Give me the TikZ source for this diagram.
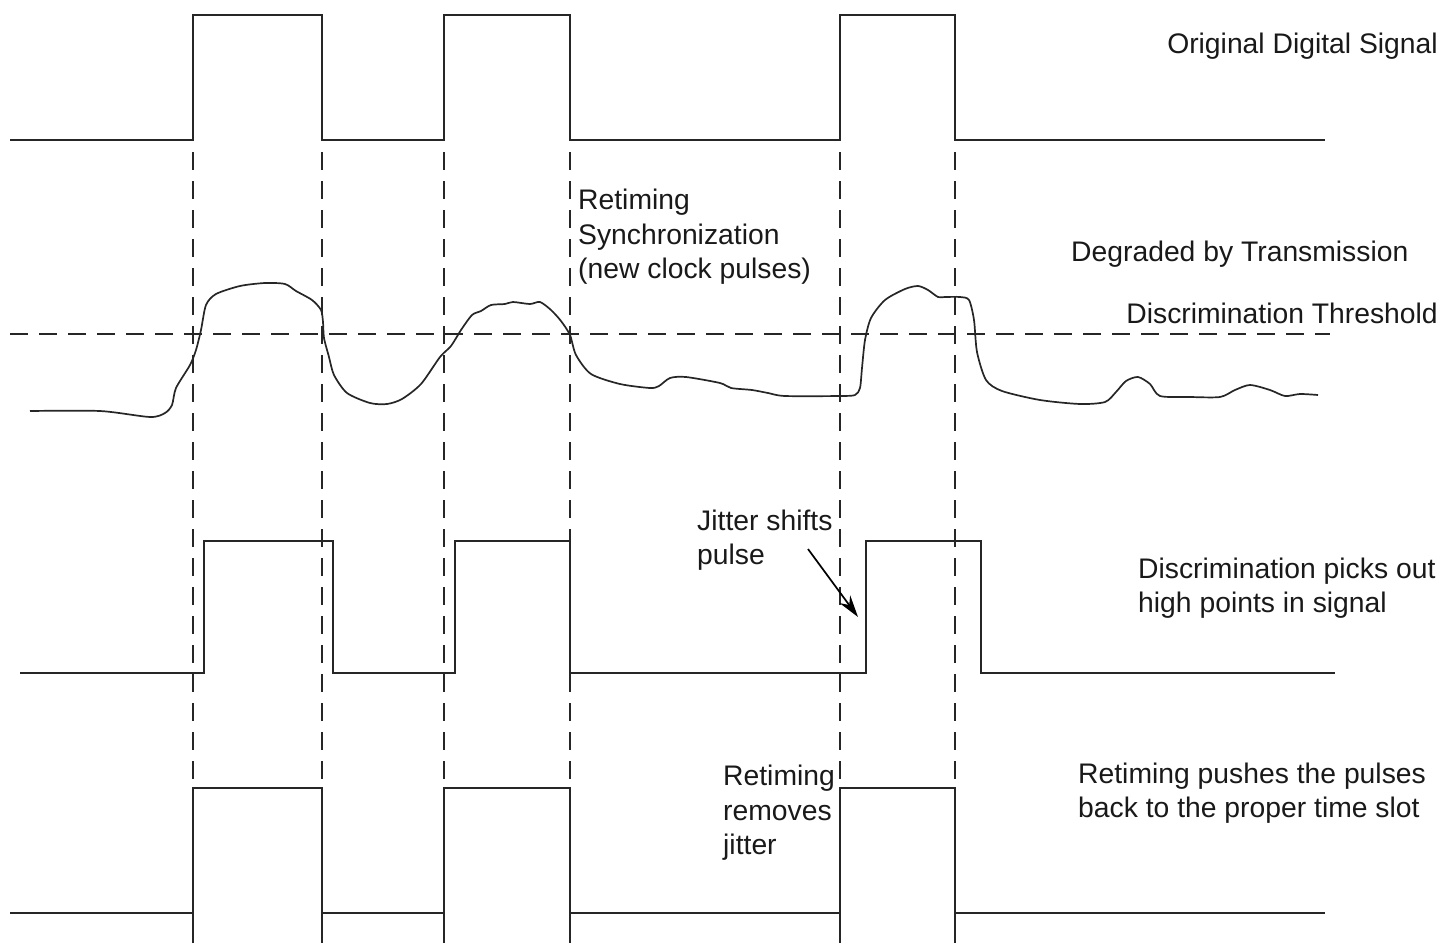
\documentclass[tikz,border=0pt]{standalone}
\usepackage{fontspec}
\setmainfont{Liberation Sans}
\usetikzlibrary{arrows.meta}
\begin{document}
\begin{tikzpicture}[x=1pt,y=-1pt,
  sig/.style={line width=2pt,draw=black!85,line join=miter},
  guide/.style={line width=1.7pt,draw=black!85,dash pattern=on 18pt off 11pt},
  lbl/.style={font=\fontsize{28.3}{34.5}\selectfont,text=black!90,inner sep=0pt,align=left,anchor=west},
  pointer/.style={line width=1.7pt,draw=black,-{Stealth[length=22pt,width=13pt]}}]
\useasboundingbox (0,0) rectangle (1446,943);
% original digital signal
\draw[sig] (10,140) -- (193,140) -- (193,15) -- (322,15) -- (322,140) -- (444,140) -- (444,15) -- (570,15) -- (570,140) -- (840,140) -- (840,15) -- (955,15) -- (955,140) -- (1325,140);
% retiming guide lines
\foreach \xx in {193,322,444,570,840,955}
  \draw[guide,dash phase=-12pt] (\xx,140) -- (\xx,788);
% threshold
\draw[guide] (10,334) -- (1330,334);
% degraded signal
\draw[sig,line width=1.7pt] plot[smooth,tension=0.45] coordinates {
 (30,411) (100,411) (150,417) (165,413) (172,405) (176,388) (190,365) (196,350) (201,330) (206,305) (216,294) (240,286) (265,283) (285,284) (296,291) (312,300) (321,310) (323,322) (324,338) (329,357) (334,375) (347,393) (370,403) (387,404) (402,399) (421,384) (440,357) (451,346) (461,330) (472,315) (481,311) (491,305) (505,304) (513,302) (530,304) (540,302) (551,310) (561,321) (570,335) (576,355) (591,374) (620,384) (650,388) (659,386) (670,378) (686,377) (720,383) (731,388) (752,390) (768,393) (785,396) (840,396) (855,395) (860,388) (862,368) (865,340) (871,318) (885,300) (905,289) (918,286) (928,290) (938,297) (945,297) (960,297) (969,300) (974,320) (977,352) (986,380) (1002,391) (1040,400) (1080,404) (1105,402) (1116,392) (1126,381) (1138,377) (1150,384) (1160,396) (1190,397) (1220,397) (1235,390) (1250,385) (1270,390) (1285,396) (1300,394) (1318,395)};
% discrimination output
\draw[sig] (20,673) -- (204,673) -- (204,541) -- (333,541) -- (333,673) -- (455,673) -- (455,541) -- (570,541) -- (570,673) -- (866,673) -- (866,541) -- (981,541) -- (981,673) -- (1335,673);
% retimed output
\draw[sig] (10,913) -- (193,913);
\draw[sig] (193,943) -- (193,788) -- (322,788) -- (322,943);
\draw[sig] (322,913) -- (444,913);
\draw[sig] (444,943) -- (444,788) -- (570,788) -- (570,943);
\draw[sig] (570,913) -- (840,913);
\draw[sig] (840,943) -- (840,788) -- (955,788) -- (955,943);
\draw[sig] (955,913) -- (1325,913);
% labels
\node[lbl,anchor=east] (orig) at (1438,46) {Original Digital Signal};
\node[lbl] (retsync) at (578,237) {Retiming\\Synchronization\\(new clock pulses)};
\node[lbl] (degr) at (1071,254) {Degraded by Transmission};
\node[lbl,anchor=east] (thr) at (1438,313) {Discrimination Threshold};
\node[lbl] (jit) at (697,540) {Jitter shifts\\pulse};
\node[lbl] (disc) at (1138,588) {Discrimination picks out\\high points in signal};
\node[lbl] (remj) at (723,813) {Retiming\\removes\\jitter};
\node[lbl] (push) at (1078,793) {Retiming pushes the pulses\\back to the proper time slot};
% pointer
\coordinate (ptail) at (808,549);
\coordinate (phead) at (858,617);
\draw[pointer] (ptail) -- (phead);
\end{tikzpicture}
\end{document}
